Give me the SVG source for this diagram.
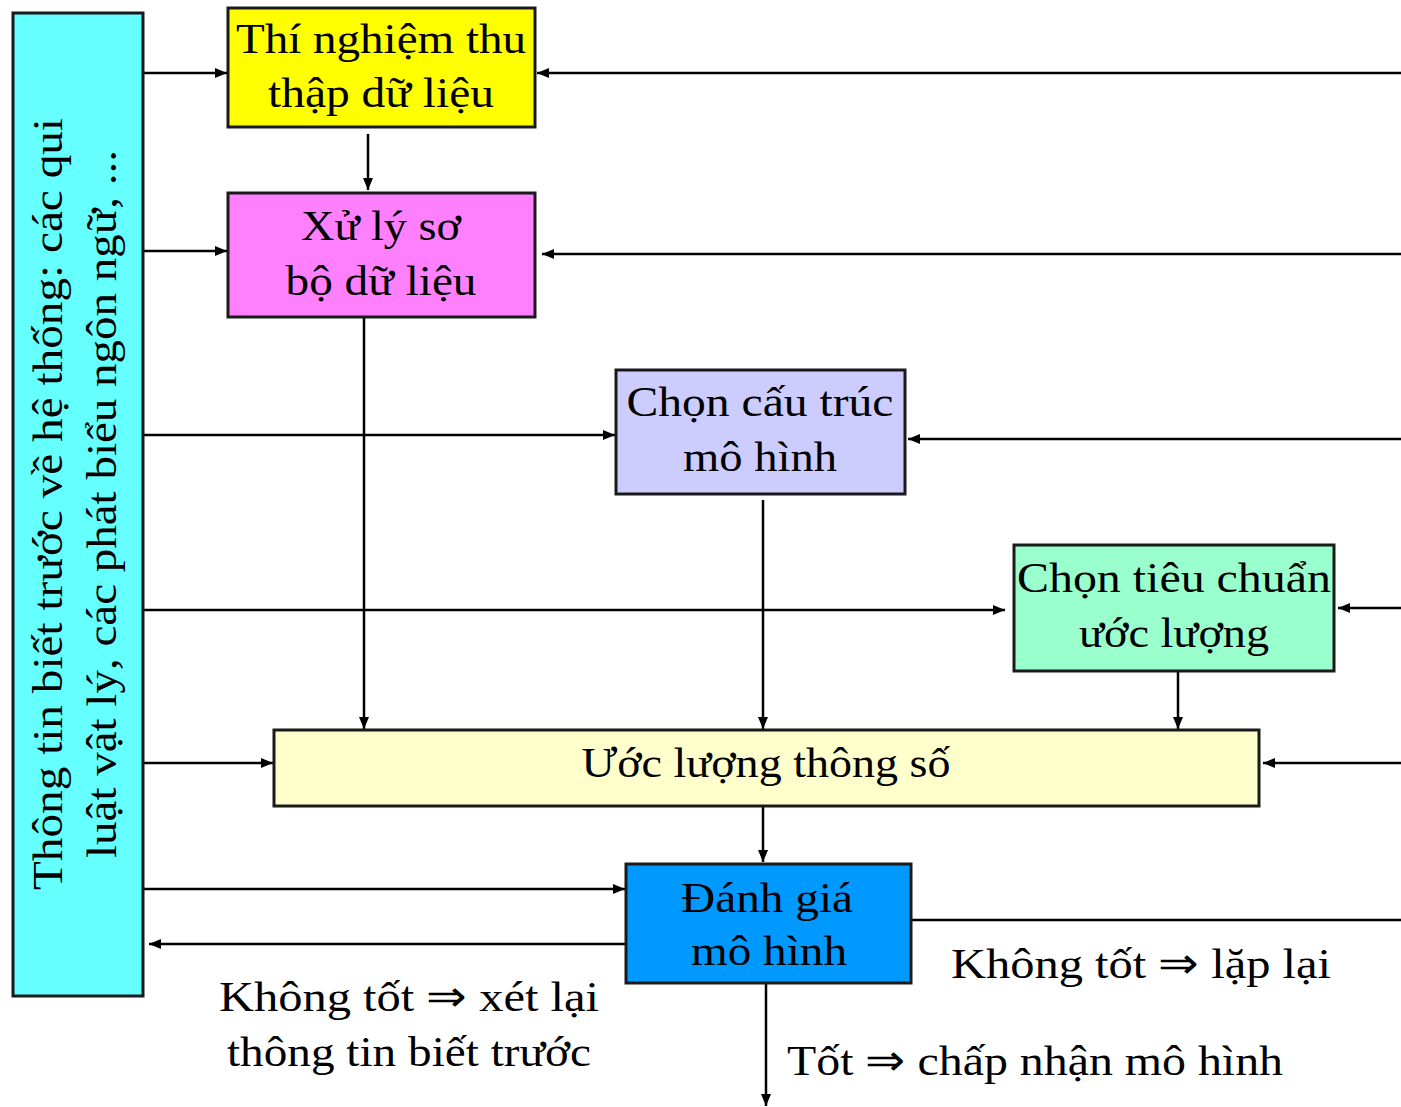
<svg xmlns="http://www.w3.org/2000/svg" width="1401" height="1107" viewBox="0 0 1401 1107">
<style>
.box{stroke:#1a1a1a;stroke-width:3}
.t{font-family:"Liberation Serif","Times New Roman",serif;font-size:43px;fill:#000;text-anchor:middle}
.lbl{font-family:"Liberation Serif","Times New Roman",serif;font-size:43px;fill:#000}
.c{stroke:#000;stroke-width:2.5;fill:none}
.a{marker-end:url(#ah)}
</style>
<defs>
<marker id="ah" markerUnits="userSpaceOnUse" markerWidth="14" markerHeight="12" refX="12" refY="6" orient="auto">
<path d="M0,1 L12,6 L0,11 Z" fill="#000"/>
</marker>
</defs>
<rect width="1401" height="1107" fill="#fff"/>
<g id="connectors">
<line class="c a" x1="143" y1="73" x2="227" y2="73"/>
<line class="c a" x1="143" y1="251" x2="227" y2="251"/>
<line class="c a" x1="143" y1="435" x2="615" y2="435"/>
<line class="c a" x1="143" y1="610" x2="1005" y2="610"/>
<line class="c a" x1="143" y1="763" x2="273" y2="763"/>
<line class="c a" x1="143" y1="889" x2="625" y2="889"/>
<line class="c a" x1="626" y1="944" x2="149" y2="944"/>
<line class="c" x1="911" y1="920" x2="1401" y2="920"/>
<line class="c a" x1="1401" y1="73" x2="537" y2="73"/>
<line class="c a" x1="1401" y1="254" x2="542" y2="254"/>
<line class="c a" x1="1401" y1="439" x2="908" y2="439"/>
<line class="c a" x1="1401" y1="608" x2="1338" y2="608"/>
<line class="c a" x1="1401" y1="763" x2="1263" y2="763"/>
<line class="c a" x1="368" y1="134" x2="368" y2="190"/>
<line class="c a" x1="364" y1="317" x2="364" y2="729"/>
<line class="c a" x1="763" y1="500" x2="763" y2="729"/>
<line class="c a" x1="1178" y1="671" x2="1178" y2="729"/>
<line class="c a" x1="763" y1="806" x2="763" y2="862"/>
<line class="c a" x1="766" y1="983" x2="766" y2="1106"/>
</g>
<g id="prior">
<rect class="box" x="13" y="13" width="130" height="983" fill="#66FFFF"/>
<text class="t" transform="translate(62,504) rotate(-90)" textLength="772" lengthAdjust="spacingAndGlyphs">Thông tin biết trước về hệ thống: các qui</text>
<text class="t" transform="translate(116,504) rotate(-90)" textLength="708" lengthAdjust="spacingAndGlyphs">luật vật lý, các phát biểu ngôn ngữ, ...</text>
</g>
<g id="experiment">
<rect class="box" x="228" y="8" width="307" height="119" fill="#FFFF00"/>
<text class="t" x="381" y="53" textLength="290" lengthAdjust="spacingAndGlyphs">Thí nghiệm thu</text>
<text class="t" x="381" y="107" textLength="226" lengthAdjust="spacingAndGlyphs">thập dữ liệu</text>
</g>
<g id="preprocess">
<rect class="box" x="228" y="193" width="307" height="124" fill="#FF80FF"/>
<text class="t" x="381" y="240" textLength="160" lengthAdjust="spacingAndGlyphs">Xử lý sơ</text>
<text class="t" x="381" y="295" textLength="191" lengthAdjust="spacingAndGlyphs">bộ dữ liệu</text>
</g>
<g id="structure">
<rect class="box" x="616" y="370" width="289" height="124" fill="#CCCCFF"/>
<text class="t" x="760" y="416" textLength="267" lengthAdjust="spacingAndGlyphs">Chọn cấu trúc</text>
<text class="t" x="760" y="471" textLength="154" lengthAdjust="spacingAndGlyphs">mô hình</text>
</g>
<g id="criterion">
<rect class="box" x="1014" y="545" width="320" height="126" fill="#99FFCC"/>
<text class="t" x="1174" y="592" textLength="314" lengthAdjust="spacingAndGlyphs">Chọn tiêu chuẩn</text>
<text class="t" x="1174" y="647" textLength="190" lengthAdjust="spacingAndGlyphs">ước lượng</text>
</g>
<g id="estimate">
<rect class="box" x="274" y="730" width="985" height="76" fill="#FFFFCC"/>
<text class="t" x="766" y="777" textLength="369" lengthAdjust="spacingAndGlyphs">Ước lượng thông số</text>
</g>
<g id="evaluate">
<rect class="box" x="626" y="864" width="285" height="119" fill="#0099FF"/>
<text class="t" x="767" y="912" textLength="172" lengthAdjust="spacingAndGlyphs">Đánh giá</text>
<text class="t" x="769" y="965" textLength="156" lengthAdjust="spacingAndGlyphs">mô hình</text>
</g>
<g id="labels">
<text class="lbl" x="951" y="978" textLength="380" lengthAdjust="spacingAndGlyphs">Không tốt ⇒ lặp lại</text>
<text class="t" x="409" y="1011" textLength="380" lengthAdjust="spacingAndGlyphs">Không tốt ⇒ xét lại</text>
<text class="t" x="409" y="1066" textLength="364" lengthAdjust="spacingAndGlyphs">thông tin biết trước</text>
<text class="lbl" x="787" y="1075" textLength="496" lengthAdjust="spacingAndGlyphs">Tốt ⇒ chấp nhận mô hình</text>
</g>
</svg>
